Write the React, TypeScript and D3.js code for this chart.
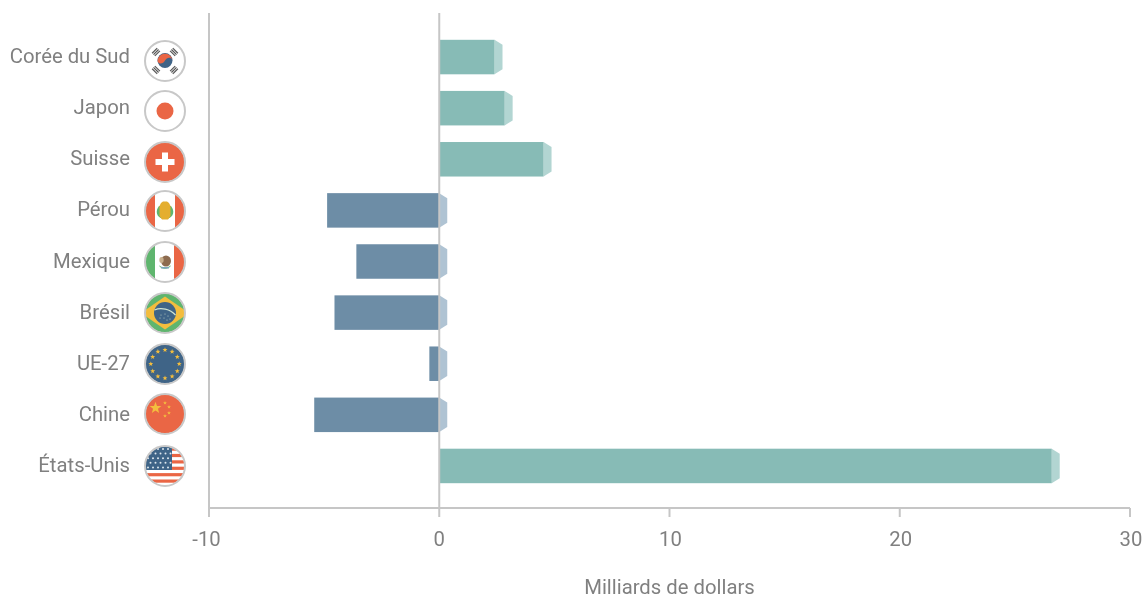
import React from "react";
import * as d3 from "d3";

const categories = ["Corée du Sud", "Japon", "Suisse", "Pérou", "Mexique", "Brésil", "UE-27", "Chine", "États-Unis"];
const values = [2.4, 2.84, 4.53, -4.87, -3.6, -4.55, -0.43, -5.43, 26.6];
const flagCodes = ["kr", "jp", "ch", "pe", "mx", "br", "eu", "cn", "us"];
const flagCentres = [61, 111, 162, 211, 262, 313, 364, 414, 466];
const xTicks = [-10, 0, 10, 20, 30];
const xTitle = "Milliards de dollars";

const W = 1145, H = 594;
const FONT = "Roboto, sans-serif";
const TEXT = "#808080", AXIS = "#c6c6c6";
const RED = "#ea6645", NAVY = "#3f6487", YELLOW = "#f3bd3e", GREEN = "#5fb56e";

const x = d3.scaleLinear().domain([-10, 30]).range([209, 1130]);
const y = d3.scaleBand<string>().domain(categories).range([31.5, 491.5]).paddingInner(0.325).paddingOuter(0.1625);

function star(cx: number, cy: number, r: number, fill: string) {
  const pts = d3.range(10).map((i) => {
    const a = -Math.PI / 2 + (i * Math.PI) / 5;
    const q = i % 2 ? r * 0.42 : r;
    return `${cx + q * Math.cos(a)},${cy + q * Math.sin(a)}`;
  });
  return <polygon key={`${cx}-${cy}`} points={pts.join(" ")} fill={fill} />;
}

function Trigram({ a }: { a: number }) {
  return (
    <g transform={`rotate(${a})`}>
      {d3.range(3).map((i) => (
        <rect key={i} x={-3.6} y={-15.2 + i * 1.9} width={7.2} height={1.2} fill="#555" />
      ))}
    </g>
  );
}

function Flag({ code }: { code: string }) {
  switch (code) {
    case "kr":
      return (
        <g>
          <rect x={-21} y={-21} width={42} height={42} fill="#fff" />
          {[45, 135, 225, 315].map((a) => <Trigram key={a} a={a} />)}
          <g transform="translate(0,-0.5)">
            <circle r={7.5} fill={NAVY} />
            <path d="M-7.4,1 A7.5,7.5 0 0 1 7.4,-1 C5.5,-4 1.5,-3 0,0 C-1.5,3 -5.5,4.5 -7.4,1Z" fill={RED} />
          </g>
        </g>
      );
    case "jp":
      return (
        <g>
          <rect x={-21} y={-21} width={42} height={42} fill="#fff" />
          <circle r={8.5} fill={RED} />
        </g>
      );
    case "ch":
      return (
        <g>
          <rect x={-21} y={-21} width={42} height={42} fill={RED} />
          <rect x={-3} y={-9.5} width={6} height={19} fill="#fff" />
          <rect x={-9.5} y={-3} width={19} height={6} fill="#fff" />
        </g>
      );
    case "pe":
      return (
        <g>
          <rect x={-21} y={-21} width={42} height={42} fill="#fff" />
          <rect x={-21} y={-21} width={11} height={42} fill={RED} />
          <rect x={10} y={-21} width={11} height={42} fill={RED} />
          <path d="M-6,-5 C-10,0 -8.5,6 -3,7.5 L3,7.5 C8.5,6 10,0 6,-5Z" fill={GREEN} />
          <path d="M-5.5,-5 L-4,-8 L-2,-9.5 L2,-9.5 L4,-8 L5.5,-5 L5.5,5 L3,8.5 L-3,8.5 L-5.5,5Z" fill="#e4ae2f" />
        </g>
      );
    case "mx":
      return (
        <g>
          <rect x={-21} y={-21} width={42} height={42} fill="#fff" />
          <rect x={-21} y={-21} width={11} height={42} fill={GREEN} />
          <rect x={9} y={-21} width={12} height={42} fill={RED} />
          <path d="M-6,3 C-5,8 5,8 6,3 C4,6 -4,6 -6,3Z" fill={GREEN} />
          <ellipse cx={1} cy={-1} rx={5} ry={5.5} fill="#8d6b4f" />
          <ellipse cx={-3.5} cy={-2} rx={2.2} ry={3} fill="#c9b08d" />
          <rect x={-4} y={5} width={8} height={1.5} fill="#7da6bd" />
        </g>
      );
    case "br":
      return (
        <g>
          <rect x={-21} y={-21} width={42} height={42} fill={GREEN} />
          <polygon points="-24,0 0,-16.5 24,0 0,16.5" fill={YELLOW} />
          <circle r={11} fill={NAVY} />
          <path d="M-10.5,-3 C-4,-6 5,-4 10.5,2" fill="none" stroke="#cfe3d2" strokeWidth={1.3} />
          {[[-4, 2], [-1, 5], [3, 3], [5, 6], [0, 1], [-5, 5], [2, 7]].map(([a, b]) => (
            <circle key={`${a}${b}`} cx={a} cy={b} r={0.5} fill="#cfe3d2" />
          ))}
        </g>
      );
    case "eu":
      return (
        <g>
          <rect x={-21} y={-21} width={42} height={42} fill={NAVY} />
          {d3.range(12).map((i) => {
            const a = (i * Math.PI) / 6;
            return star(14.2 * Math.sin(a), -14.2 * Math.cos(a), 2.6, YELLOW);
          })}
        </g>
      );
    case "cn":
      return (
        <g>
          <rect x={-21} y={-21} width={42} height={42} fill={RED} />
          {star(-9.5, -6, 6.2, YELLOW)}
          {star(0, -11, 2, YELLOW)}
          {star(4, -7, 2, YELLOW)}
          {star(4, -1, 2, YELLOW)}
          {star(0, 2, 2, YELLOW)}
        </g>
      );
    default:
      return (
        <g>
          <rect x={-21} y={-21} width={42} height={42} fill="#fff" />
          {d3.range(7).map((i) => (
            <rect key={i} x={-21} y={-18.5 + i * 6.4} width={42} height={3.2} fill={RED} />
          ))}
          <rect x={-21} y={-21} width={28} height={25} fill={NAVY} />
          {d3.range(5).map((r) =>
            d3.range(5).map((c) => (
              <circle key={`${r}-${c}`} cx={-17 + c * 5 + (r % 2) * 2.5} cy={-17 + r * 4.6} r={1} fill="#dfe7ee" />
            ))
          )}
        </g>
      );
  }
}

export default function App() {
  const zero = x(0);
  return (
    <svg
      width={W}
      height={H}
      viewBox={`0 0 ${W} ${H}`}
      style={{ position: "absolute", left: 0, top: 0, fontFamily: FONT, willChange: "transform" }}
    >
      <defs>
        <clipPath id="flagClip"><circle r={19.5} /></clipPath>
      </defs>
      {categories.map((c, i) => {
        const v = values[i];
        const top = y(c)!;
        const h = y.bandwidth();
        const end = v >= 0 ? x(v) : zero;
        const faceEnd = end + 8;
        const front = v >= 0 ? "#87bbb6" : "#6d8da6";
        const side = v >= 0 ? "#b2d5d2" : "#afc3d3";
        return (
          <g key={c}>
            <polygon
              points={`${end},${top} ${faceEnd},${top + 5} ${faceEnd},${top + h - 5} ${end},${top + h}`}
              fill={side}
            />
            <rect x={Math.min(x(v), zero)} y={top} width={Math.abs(x(v) - zero)} height={h} fill={front} />
          </g>
        );
      })}
      <g stroke={AXIS} strokeWidth={2} fill="none">
        <line x1={x(-10)} x2={x(30)} y1={508} y2={508} />
        <line x1={x(-10)} x2={x(-10)} y1={13} y2={517} />
        <line x1={zero} x2={zero} y1={13} y2={517} />
        {xTicks.filter((t) => t > 0).map((t) => (
          <line key={t} x1={x(t)} x2={x(t)} y1={508} y2={517} />
        ))}
      </g>
      <g fontSize={20.3} fill={TEXT} textAnchor="middle">
        {xTicks.map((t) => (
          <text key={t} x={x(t)} dx={t < 0 ? -2.5 : t > 0 ? 1 : 0} y={546}>{t}</text>
        ))}
        <text x={669.5} y={593.5}>{xTitle}</text>
      </g>
      <g fontSize={20.3} fill={TEXT} textAnchor="end">
        {categories.map((c) => (
          <text key={c} x={130} y={y(c)! + y.bandwidth() / 2 + 6}>{c}</text>
        ))}
      </g>
      {categories.map((c, i) => (
        <g key={c} transform={`translate(165,${flagCentres[i]})`}>
          <g clipPath="url(#flagClip)"><Flag code={flagCodes[i]} /></g>
          <circle r={20} fill="none" stroke="#c8c8c8" strokeWidth={2} />
        </g>
      ))}
    </svg>
  );
}
